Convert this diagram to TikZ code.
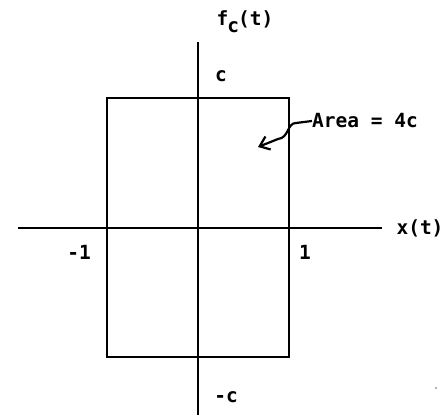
\documentclass[tikz,border=0pt]{standalone}
\usepackage{fontspec}
\setmainfont{DejaVu Sans Mono}
\usetikzlibrary{arrows.meta}
\tikzset{
  axisline/.style={line width=2.8pt},
  boxline/.style={line width=2.8pt},
  lbl/.style={inner sep=0pt, font=\fontsize{19.5}{21}\selectfont\bfseries},
}
\begin{document}
\begin{tikzpicture}[x=1pt,y=-1pt]
\useasboundingbox (0,0) rectangle (443,415);
% axes
\coordinate (ytop) at (198,42);
\coordinate (ybot) at (198,415);
\coordinate (xl) at (18,228);
\coordinate (xr) at (382,228);
\draw[axisline] (ybot) -- (ytop);
\draw[axisline] (xl) -- (xr);
% rectangle
\coordinate (rtl) at (107,98);
\coordinate (rbr) at (289,357);
\draw[boxline] (rtl) rectangle (rbr);
% labels
\node[lbl] (fc) at (245,22) {f\kern-1pt\raisebox{-7pt}{c}\kern-1pt(t)};
\node[lbl] (c) at (221,76) {c};
\node[lbl] (xt) at (420,228) {x(t)};
\node[lbl] (m1) at (79,252) {-1};
\node[lbl] (p1) at (305,252) {1};
\node[lbl] (mc) at (226,397) {-c};
\node[lbl, anchor=west] (area) at (312,121) {Area = 4c};
% arrow
\coordinate (tip) at (258,147);
\draw[line width=2.2pt, -{Straight Barb[length=9pt,width=14pt]}]
  (area.west) -- (296,123) .. controls (287,123) and (289,138) .. (278,139) -- (tip);
% speck
\fill[gray!60] (435,387) rectangle (437,389);
\end{tikzpicture}
\end{document}
